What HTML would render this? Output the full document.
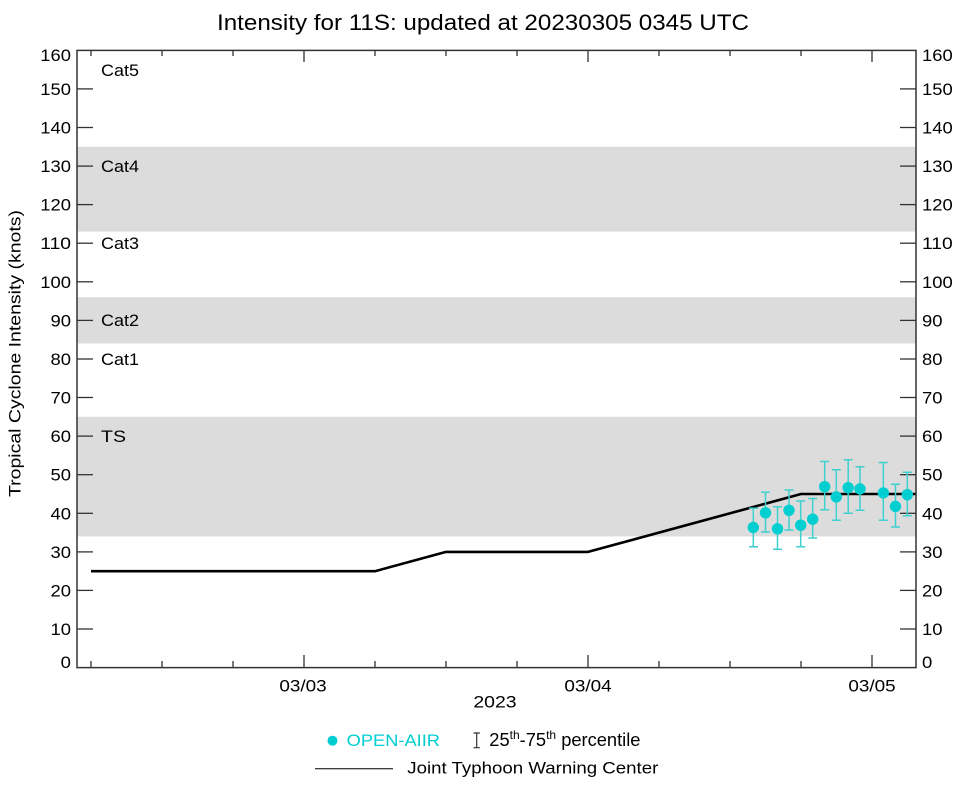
<!DOCTYPE html>
<html>
<head>
<meta charset="utf-8">
<style>
html,body{margin:0;padding:0;background:#fff;}
svg{display:block;font-family:"Liberation Sans",Arial,Helvetica,sans-serif;}
</style>
</head>
<body>
<svg width="964" height="786" viewBox="0 0 964 786" xmlns="http://www.w3.org/2000/svg">
<rect x="0" y="0" width="964" height="786" fill="#fff"/>
<!-- bands -->
<rect x="77" y="146.8" width="839" height="84.8" fill="#dcdcdc"/>
<rect x="77" y="297.2" width="839" height="46.3" fill="#dcdcdc"/>
<rect x="77" y="416.8" width="839" height="119.6" fill="#dcdcdc"/>

<!-- category labels -->
<g font-size="17" fill="#000">
<text x="101" y="76" textLength="38" lengthAdjust="spacingAndGlyphs">Cat5</text>
<text x="101" y="172" textLength="38" lengthAdjust="spacingAndGlyphs">Cat4</text>
<text x="101" y="249" textLength="38" lengthAdjust="spacingAndGlyphs">Cat3</text>
<text x="101" y="326" textLength="38" lengthAdjust="spacingAndGlyphs">Cat2</text>
<text x="101" y="365" textLength="38" lengthAdjust="spacingAndGlyphs">Cat1</text>
<text x="101" y="442" textLength="25" lengthAdjust="spacingAndGlyphs">TS</text>
</g>

<!-- y ticks left & right -->
<g stroke="#333" stroke-width="1.3">
<line x1="77" y1="88.9" x2="93" y2="88.9"/><line x1="900" y1="88.9" x2="916" y2="88.9"/>
<line x1="77" y1="127.5" x2="93" y2="127.5"/><line x1="900" y1="127.5" x2="916" y2="127.5"/>
<line x1="77" y1="166.1" x2="93" y2="166.1"/><line x1="900" y1="166.1" x2="916" y2="166.1"/>
<line x1="77" y1="204.6" x2="93" y2="204.6"/><line x1="900" y1="204.6" x2="916" y2="204.6"/>
<line x1="77" y1="243.2" x2="93" y2="243.2"/><line x1="900" y1="243.2" x2="916" y2="243.2"/>
<line x1="77" y1="281.8" x2="93" y2="281.8"/><line x1="900" y1="281.8" x2="916" y2="281.8"/>
<line x1="77" y1="320.4" x2="93" y2="320.4"/><line x1="900" y1="320.4" x2="916" y2="320.4"/>
<line x1="77" y1="359.0" x2="93" y2="359.0"/><line x1="900" y1="359.0" x2="916" y2="359.0"/>
<line x1="77" y1="397.5" x2="93" y2="397.5"/><line x1="900" y1="397.5" x2="916" y2="397.5"/>
<line x1="77" y1="436.1" x2="93" y2="436.1"/><line x1="900" y1="436.1" x2="916" y2="436.1"/>
<line x1="77" y1="474.7" x2="93" y2="474.7"/><line x1="900" y1="474.7" x2="916" y2="474.7"/>
<line x1="77" y1="513.3" x2="93" y2="513.3"/><line x1="900" y1="513.3" x2="916" y2="513.3"/>
<line x1="77" y1="551.9" x2="93" y2="551.9"/><line x1="900" y1="551.9" x2="916" y2="551.9"/>
<line x1="77" y1="590.4" x2="93" y2="590.4"/><line x1="900" y1="590.4" x2="916" y2="590.4"/>
<line x1="77" y1="629.0" x2="93" y2="629.0"/><line x1="900" y1="629.0" x2="916" y2="629.0"/>
</g>

<!-- x ticks bottom & top -->
<g stroke="#333" stroke-width="1.3">
<line x1="91" y1="667.6" x2="91" y2="661"/><line x1="91" y1="50.4" x2="91" y2="56"/>
<line x1="162" y1="667.6" x2="162" y2="661"/><line x1="162" y1="50.4" x2="162" y2="56"/>
<line x1="233" y1="667.6" x2="233" y2="661"/><line x1="233" y1="50.4" x2="233" y2="56"/>
<line x1="304" y1="667.6" x2="304" y2="655"/><line x1="304" y1="50.4" x2="304" y2="62"/>
<line x1="375" y1="667.6" x2="375" y2="661"/><line x1="375" y1="50.4" x2="375" y2="56"/>
<line x1="446" y1="667.6" x2="446" y2="661"/><line x1="446" y1="50.4" x2="446" y2="56"/>
<line x1="517" y1="667.6" x2="517" y2="661"/><line x1="517" y1="50.4" x2="517" y2="56"/>
<line x1="588" y1="667.6" x2="588" y2="655"/><line x1="588" y1="50.4" x2="588" y2="62"/>
<line x1="659" y1="667.6" x2="659" y2="661"/><line x1="659" y1="50.4" x2="659" y2="56"/>
<line x1="730" y1="667.6" x2="730" y2="661"/><line x1="730" y1="50.4" x2="730" y2="56"/>
<line x1="801" y1="667.6" x2="801" y2="661"/><line x1="801" y1="50.4" x2="801" y2="56"/>
<line x1="872" y1="667.6" x2="872" y2="655"/><line x1="872" y1="50.4" x2="872" y2="62"/>
</g>

<!-- JTWC line -->
<polyline points="91,571.2 375,571.2 446,551.9 588,551.9 801,494 916,494" fill="none" stroke="#000" stroke-width="2.6" stroke-linejoin="round"/>

<!-- error bars -->
<g stroke="#3fd0d0" stroke-width="1.5" fill="none">
<path d="M753.3,508.3V546.7M749,508.3h9M749,546.7h9"/>
<path d="M765.5,492.3V532M761,492.3h9M761,532h9"/>
<path d="M777.5,506.7V549.3M773,506.7h9M773,549.3h9"/>
<path d="M789,490V530M784.5,490h9M784.5,530h9"/>
<path d="M800.7,501V546.7M796.2,501h9M796.2,546.7h9"/>
<path d="M812.7,498.5V538M808.2,498.5h9M808.2,538h9"/>
<path d="M824.7,461.5V509.7M820.2,461.5h9M820.2,509.7h9"/>
<path d="M836.3,469.7V520.2M831.8,469.7h9M831.8,520.2h9"/>
<path d="M848.2,459.7V513.2M843.7,459.7h9M843.7,513.2h9"/>
<path d="M860,466.8V510.2M855.5,466.8h9M855.5,510.2h9"/>
<path d="M883.3,462.5V520.2M878.8,462.5h9M878.8,520.2h9"/>
<path d="M895.5,484.2V527M891,484.2h9M891,527h9"/>
<path d="M907.3,472.3V515.7M902.8,472.3h9M902.8,515.7h9"/>
</g>
<!-- markers -->
<g fill="#00ced1">
<circle cx="753.3" cy="527.5" r="5.7"/>
<circle cx="765.5" cy="512.8" r="5.7"/>
<circle cx="777.5" cy="528.8" r="5.7"/>
<circle cx="789" cy="510.3" r="5.7"/>
<circle cx="800.7" cy="525.2" r="5.7"/>
<circle cx="812.7" cy="519.2" r="5.7"/>
<circle cx="824.7" cy="486.7" r="5.7"/>
<circle cx="836.3" cy="496.9" r="5.7"/>
<circle cx="848.2" cy="487.7" r="5.7"/>
<circle cx="860" cy="488.9" r="5.7"/>
<circle cx="883.3" cy="492.9" r="5.7"/>
<circle cx="895.5" cy="506.4" r="5.7"/>
<circle cx="907.3" cy="494.7" r="5.7"/>
</g>

<!-- frame -->
<rect x="77" y="50.4" width="839" height="617.2" fill="none" stroke="#333" stroke-width="1.5"/>

<!-- y tick labels left -->
<g font-size="17" fill="#000" text-anchor="end">
<text x="71" y="61" textLength="30.7" lengthAdjust="spacingAndGlyphs">160</text>
<text x="71" y="94.9" textLength="30.7" lengthAdjust="spacingAndGlyphs">150</text>
<text x="71" y="133.5" textLength="30.7" lengthAdjust="spacingAndGlyphs">140</text>
<text x="71" y="172.1" textLength="30.7" lengthAdjust="spacingAndGlyphs">130</text>
<text x="71" y="210.6" textLength="30.7" lengthAdjust="spacingAndGlyphs">120</text>
<text x="71" y="249.2" textLength="30.7" lengthAdjust="spacingAndGlyphs">110</text>
<text x="71" y="287.8" textLength="30.7" lengthAdjust="spacingAndGlyphs">100</text>
<text x="71" y="326.4" textLength="20.5" lengthAdjust="spacingAndGlyphs">90</text>
<text x="71" y="365" textLength="20.5" lengthAdjust="spacingAndGlyphs">80</text>
<text x="71" y="403.5" textLength="20.5" lengthAdjust="spacingAndGlyphs">70</text>
<text x="71" y="442.1" textLength="20.5" lengthAdjust="spacingAndGlyphs">60</text>
<text x="71" y="480.7" textLength="20.5" lengthAdjust="spacingAndGlyphs">50</text>
<text x="71" y="519.3" textLength="20.5" lengthAdjust="spacingAndGlyphs">40</text>
<text x="71" y="557.9" textLength="20.5" lengthAdjust="spacingAndGlyphs">30</text>
<text x="71" y="596.4" textLength="20.5" lengthAdjust="spacingAndGlyphs">20</text>
<text x="71" y="635" textLength="20.5" lengthAdjust="spacingAndGlyphs">10</text>
<text x="71" y="668" textLength="10.3" lengthAdjust="spacingAndGlyphs">0</text>
</g>
<!-- y tick labels right -->
<g font-size="17" fill="#000">
<text x="922" y="61" textLength="30.7" lengthAdjust="spacingAndGlyphs">160</text>
<text x="922" y="94.9" textLength="30.7" lengthAdjust="spacingAndGlyphs">150</text>
<text x="922" y="133.5" textLength="30.7" lengthAdjust="spacingAndGlyphs">140</text>
<text x="922" y="172.1" textLength="30.7" lengthAdjust="spacingAndGlyphs">130</text>
<text x="922" y="210.6" textLength="30.7" lengthAdjust="spacingAndGlyphs">120</text>
<text x="922" y="249.2" textLength="30.7" lengthAdjust="spacingAndGlyphs">110</text>
<text x="922" y="287.8" textLength="30.7" lengthAdjust="spacingAndGlyphs">100</text>
<text x="922" y="326.4" textLength="20.5" lengthAdjust="spacingAndGlyphs">90</text>
<text x="922" y="365" textLength="20.5" lengthAdjust="spacingAndGlyphs">80</text>
<text x="922" y="403.5" textLength="20.5" lengthAdjust="spacingAndGlyphs">70</text>
<text x="922" y="442.1" textLength="20.5" lengthAdjust="spacingAndGlyphs">60</text>
<text x="922" y="480.7" textLength="20.5" lengthAdjust="spacingAndGlyphs">50</text>
<text x="922" y="519.3" textLength="20.5" lengthAdjust="spacingAndGlyphs">40</text>
<text x="922" y="557.9" textLength="20.5" lengthAdjust="spacingAndGlyphs">30</text>
<text x="922" y="596.4" textLength="20.5" lengthAdjust="spacingAndGlyphs">20</text>
<text x="922" y="635" textLength="20.5" lengthAdjust="spacingAndGlyphs">10</text>
<text x="922" y="668" textLength="10.3" lengthAdjust="spacingAndGlyphs">0</text>
</g>

<!-- x labels -->
<g font-size="17" fill="#000" text-anchor="middle">
<text x="303" y="691.7" textLength="47.3" lengthAdjust="spacingAndGlyphs">03/03</text>
<text x="588" y="691.7" textLength="47.3" lengthAdjust="spacingAndGlyphs">03/04</text>
<text x="872" y="691.7" textLength="47.3" lengthAdjust="spacingAndGlyphs">03/05</text>
<text x="495" y="707.3" textLength="43.3" lengthAdjust="spacingAndGlyphs">2023</text>
</g>

<!-- title -->
<text x="217" y="30" font-size="22" fill="#000" textLength="532" lengthAdjust="spacingAndGlyphs">Intensity for 11S: updated at 20230305 0345 UTC</text>

<!-- y axis label -->
<text transform="translate(20.7,353.5) rotate(-90)" text-anchor="middle" font-size="17" fill="#000" textLength="287" lengthAdjust="spacingAndGlyphs">Tropical Cyclone Intensity (knots)</text>

<!-- legend -->
<circle cx="332.5" cy="740.7" r="5" fill="#00ced1"/>
<text x="346.7" y="746" font-size="17" fill="#00ced1" textLength="93.3" lengthAdjust="spacingAndGlyphs">OPEN-AIIR</text>
<path d="M476.7,733V747.7M473.5,733h6.4M473.5,747.7h6.4" stroke="#333" stroke-width="1.2" fill="none"/>
<text x="489.3" y="746" font-size="18.3" fill="#000">25<tspan font-size="12" dy="-7">th</tspan><tspan dy="7">-75</tspan><tspan font-size="12" dy="-7">th</tspan><tspan dy="7"> percentile</tspan></text>
<line x1="315" y1="768.7" x2="393" y2="768.7" stroke="#000" stroke-width="1"/>
<text x="407.3" y="773.3" font-size="17" fill="#000" textLength="251" lengthAdjust="spacingAndGlyphs">Joint Typhoon Warning Center</text>
</svg>
</body>
</html>
